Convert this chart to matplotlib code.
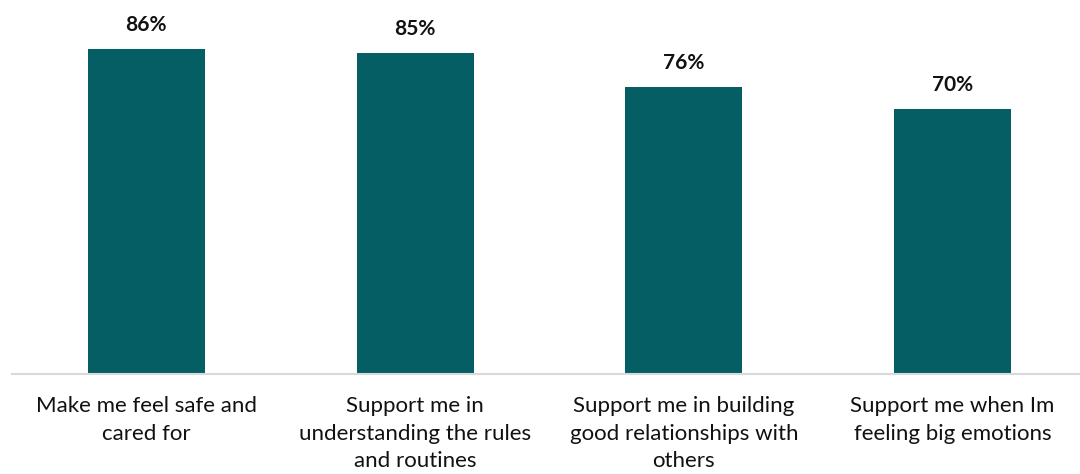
import matplotlib
matplotlib.use("Agg")
import matplotlib.pyplot as plt

categories = [
    "Make me feel safe and\ncared for",
    "Support me in\nunderstanding the rules\nand routines",
    "Support me in building\ngood relationships with\nothers",
    "Support me when Im\nfeeling big emotions",
]
values = [86, 85, 76, 70]
value_labels = ["86%", "85%", "76%", "70%"]

bar_color = "#055E63"
plt.rcParams["font.family"] = ["Lato", "DejaVu Sans"]

W, H = 1080, 474
fig = plt.figure(figsize=(W / 100, H / 100), dpi=100)
ax = fig.add_axes([12 / W, (H - 374) / H, 1075 / W, 374 / H])

x = range(len(categories))
bars = ax.bar(x, values, width=0.435, color=bar_color, zorder=2)

for xi, v, lab in zip(x, values, value_labels):
    ax.annotate(lab, (xi, v), xytext=(0, 24), textcoords="offset pixels",
                ha="center", va="center", fontsize=15, fontweight="bold",
                color="#111111")

ax.set_xlim(-0.5, len(categories) - 0.5)
ax.set_ylim(0, 98.9)
ax.set_yticks([])
ax.set_xticks(list(x))
ax.set_xticklabels(categories, fontsize=16, color="#111111", linespacing=1.46)
ax.tick_params(axis="x", length=0, pad=16)
for s in ["top", "right", "left"]:
    ax.spines[s].set_visible(False)
ax.spines["bottom"].set_color("#D9D9D9")
ax.spines["bottom"].set_linewidth(1.5)

fig.savefig("out.png", dpi=100)
